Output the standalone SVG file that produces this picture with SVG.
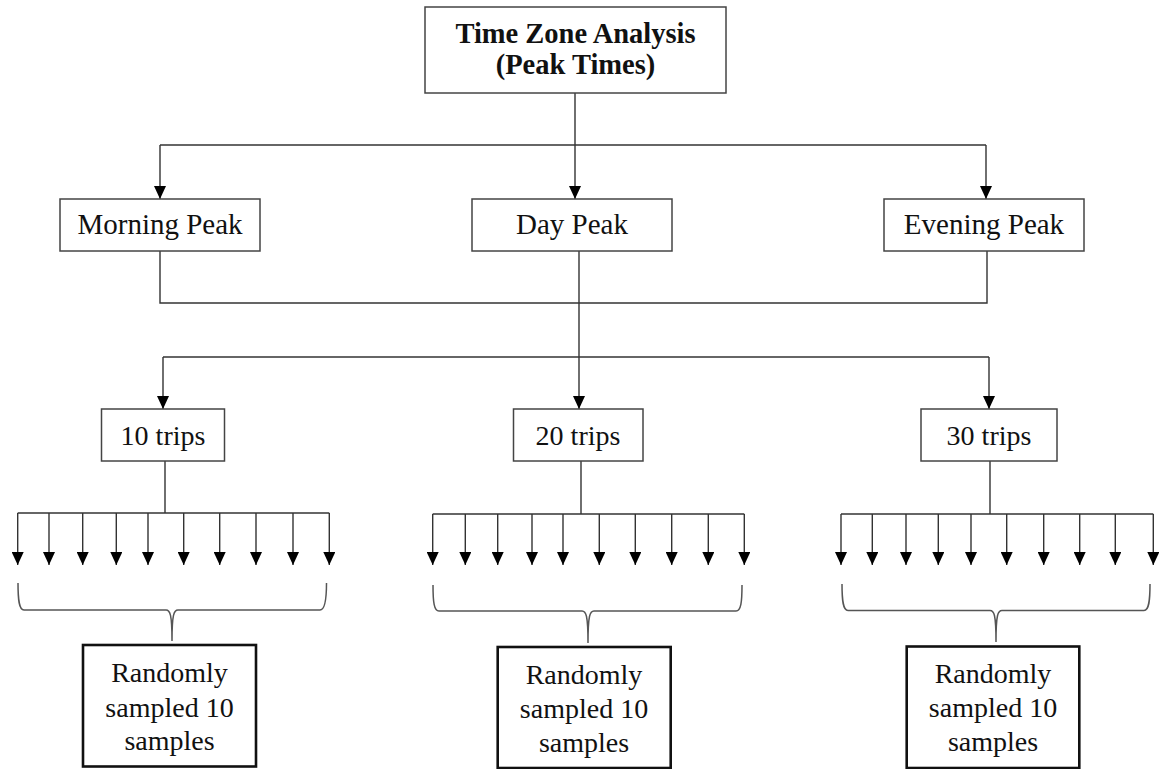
<svg xmlns="http://www.w3.org/2000/svg" width="1163" height="769" viewBox="0 0 1163 769">
<style>
.bg{fill:#fff}
.box{fill:#fff;stroke:#444;stroke-width:1.5}
.sbox{fill:#fff;stroke:#111;stroke-width:2.6}
.t{font-family:"Liberation Serif","Times New Roman",serif;font-size:28px;fill:#111;text-anchor:middle}
.tp{font-family:"Liberation Serif","Times New Roman",serif;font-size:29px;fill:#111;text-anchor:middle}
.tb{font-family:"Liberation Serif","Times New Roman",serif;font-size:28.5px;font-weight:bold;fill:#111;text-anchor:middle}
.ln{fill:none;stroke:#333;stroke-width:1.4}
.ar{fill:none;stroke:#333;stroke-width:1.4;marker-end:url(#ah)}
.br{fill:none;stroke:#555;stroke-width:1.5}
</style>
<defs>
<marker id="ah" viewBox="0 0 13 12" refX="13" refY="6" markerWidth="13" markerHeight="12" markerUnits="userSpaceOnUse" orient="auto">
<path d="M0,0 L13,6 L0,12 z" fill="#000"/>
</marker>
</defs>
<rect class="bg" x="0" y="0" width="1163" height="769"/>

<g id="connectors">
<line class="ln" x1="575" y1="93" x2="575" y2="145"/>
<line class="ln" x1="160" y1="145" x2="986" y2="145"/>
<line class="ar" x1="160" y1="145" x2="160" y2="199"/>
<line class="ar" x1="575" y1="145" x2="575" y2="199"/>
<line class="ar" x1="986" y1="145" x2="986" y2="199"/>
<polyline class="ln" points="160,251 160,303 987,303 987,251"/>
<line class="ln" x1="579" y1="251" x2="579" y2="357"/>
<line class="ln" x1="163" y1="357" x2="989" y2="357"/>
<line class="ar" x1="163" y1="357" x2="163" y2="409"/>
<line class="ar" x1="579" y1="357" x2="579" y2="409"/>
<line class="ar" x1="989" y1="357" x2="989" y2="409"/>
<line class="ln" x1="165" y1="461" x2="165" y2="513"/>
<line class="ln" x1="17.7" y1="513" x2="329.3" y2="513"/>
<g>
<line class="ar" x1="17.7" y1="513" x2="17.7" y2="565"/>
<line class="ar" x1="49" y1="513" x2="49" y2="565"/>
<line class="ar" x1="82.7" y1="513" x2="82.7" y2="565"/>
<line class="ar" x1="116.3" y1="513" x2="116.3" y2="565"/>
<line class="ar" x1="148" y1="513" x2="148" y2="565"/>
<line class="ar" x1="183.7" y1="513" x2="183.7" y2="565"/>
<line class="ar" x1="219.7" y1="513" x2="219.7" y2="565"/>
<line class="ar" x1="256" y1="513" x2="256" y2="565"/>
<line class="ar" x1="293" y1="513" x2="293" y2="565"/>
<line class="ar" x1="329.3" y1="513" x2="329.3" y2="565"/>
</g>
<line class="ln" x1="581" y1="461" x2="581" y2="514"/>
<line class="ln" x1="432.7" y1="514" x2="744.3" y2="514"/>
<g>
<line class="ar" x1="432.7" y1="514" x2="432.7" y2="565"/>
<line class="ar" x1="465.3" y1="514" x2="465.3" y2="565"/>
<line class="ar" x1="497.7" y1="514" x2="497.7" y2="565"/>
<line class="ar" x1="532" y1="514" x2="532" y2="565"/>
<line class="ar" x1="563" y1="514" x2="563" y2="565"/>
<line class="ar" x1="599.3" y1="514" x2="599.3" y2="565"/>
<line class="ar" x1="635.3" y1="514" x2="635.3" y2="565"/>
<line class="ar" x1="671.7" y1="514" x2="671.7" y2="565"/>
<line class="ar" x1="708.3" y1="514" x2="708.3" y2="565"/>
<line class="ar" x1="744.3" y1="514" x2="744.3" y2="565"/>
</g>
<line class="ln" x1="990" y1="461" x2="990" y2="514"/>
<line class="ln" x1="841" y1="514" x2="1153.3" y2="514"/>
<g>
<line class="ar" x1="841" y1="514" x2="841" y2="565"/>
<line class="ar" x1="872.3" y1="514" x2="872.3" y2="565"/>
<line class="ar" x1="906" y1="514" x2="906" y2="565"/>
<line class="ar" x1="938.3" y1="514" x2="938.3" y2="565"/>
<line class="ar" x1="971" y1="514" x2="971" y2="565"/>
<line class="ar" x1="1006.7" y1="514" x2="1006.7" y2="565"/>
<line class="ar" x1="1043.7" y1="514" x2="1043.7" y2="565"/>
<line class="ar" x1="1079.7" y1="514" x2="1079.7" y2="565"/>
<line class="ar" x1="1115.3" y1="514" x2="1115.3" y2="565"/>
<line class="ar" x1="1153.3" y1="514" x2="1153.3" y2="565"/>
</g>
<path class="br" d="M18,583 C18,600 19,610 24,610 L166,610 C170,610 172,614 172,641 C172,614 174,610 178,610 L320,610 C325,610 326.5,600 326.5,583"/>
<path class="br" d="M433,585 C433,602 434,611 439,611 L582,611 C586,611 588,615 588,643 C588,615 590,611 594,611 L736,611 C741,611 742,602 742,585"/>
<path class="br" d="M842,584 C842,601 843,610.5 848,610.5 L990,610.5 C994,610.5 996,614 996,642 C996,614 998,610.5 1002,610.5 L1144,610.5 C1149,610.5 1150,601 1150,584"/>
</g>

<g id="n_top">
<rect class="box" x="425" y="7" width="301" height="86"/>
<text class="tb" x="575.5" y="43">Time Zone Analysis</text>
<text class="tb" x="575.5" y="74">(Peak Times)</text>
</g>
<g id="n_morning">
<rect class="box" x="60" y="199" width="200" height="52"/>
<text class="tp" x="160" y="234">Morning Peak</text>
</g>
<g id="n_day">
<rect class="box" x="472" y="199" width="200" height="52"/>
<text class="tp" x="572" y="234">Day Peak</text>
</g>
<g id="n_evening">
<rect class="box" x="884" y="199" width="200" height="52"/>
<text class="tp" x="984" y="234">Evening Peak</text>
</g>
<g id="n_10trips">
<rect class="box" x="101.5" y="409" width="123" height="52"/>
<text class="t" x="163" y="445">10 trips</text>
</g>
<g id="n_20trips">
<rect class="box" x="513.5" y="409" width="129.5" height="52"/>
<text class="t" x="578" y="445">20 trips</text>
</g>
<g id="n_30trips">
<rect class="box" x="921" y="409" width="136" height="52"/>
<text class="t" x="989" y="445">30 trips</text>
</g>
<g id="n_sample1">
<rect class="sbox" x="83" y="645" width="173" height="121.5"/>
<text class="t" x="169.5" y="682">Randomly</text>
<text class="t" x="169.5" y="716.5">sampled 10</text>
<text class="t" x="169.5" y="750">samples</text>
</g>
<g id="n_sample2">
<rect class="sbox" x="497.7" y="647" width="173" height="121"/>
<text class="t" x="584" y="683.5">Randomly</text>
<text class="t" x="584" y="717.5">sampled 10</text>
<text class="t" x="584" y="751.5">samples</text>
</g>
<g id="n_sample3">
<rect class="sbox" x="906.7" y="646.5" width="172.6" height="121.5"/>
<text class="t" x="993" y="683">Randomly</text>
<text class="t" x="993" y="717">sampled 10</text>
<text class="t" x="993" y="751">samples</text>
</g>
</svg>
